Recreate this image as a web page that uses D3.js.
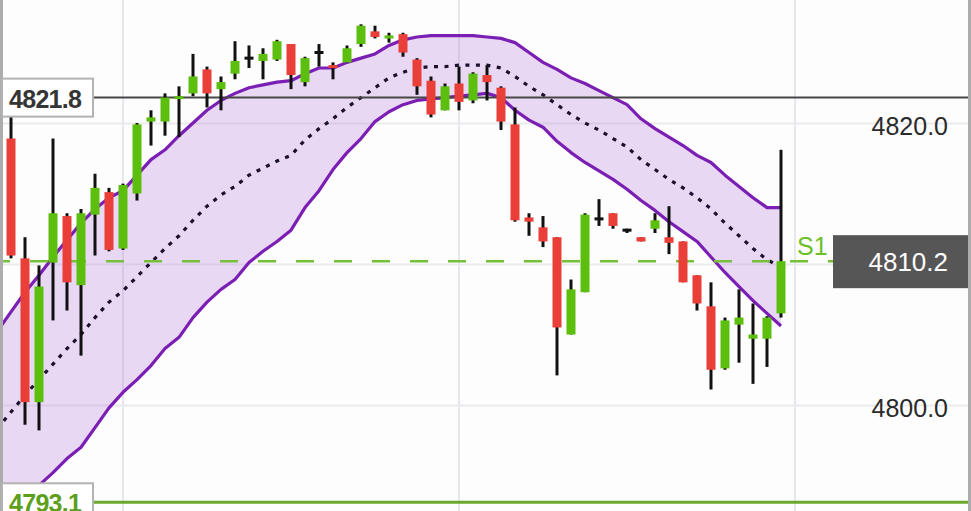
<!DOCTYPE html>
<html><head><meta charset="utf-8">
<script src="https://cdn.jsdelivr.net/npm/d3@7"></script>
<style>html,body{margin:0;padding:0;background:#fdfdfd;overflow:hidden}</style>
</head><body>
<svg id="c" width="971" height="511"></svg>
<script>
// ---- data ----
const opens  = [4818.9,4810.4,4800.2,4810.1,4813.4,4808.5,4813.5,4815.1,4811.1,4815.0,
                4820.1,4820.1,4821.6,4822.1,4823.8,4822.4,4823.5,4824.6,4824.4,4824.5,
                4825.6,4822.9,4825.0,4824.0,4824.3,4825.6,4826.5,4825.9,4826.3,4824.5,
                4823.0,4820.9,4822.8,4821.6,4823.4,4822.5,4819.9,4813.3,4812.6,4811.9,
                4805.0,4808.0,4813.2,4813.6,4812.4,4811.9,4812.5,4811.9,4811.6,4809.2,
                4807.0,4802.6,4805.7,4804.7,4804.7,4806.5];
const highs  = [4821.0,4811.9,4809.9,4818.9,4813.6,4813.9,4816.4,4815.4,4815.7,4820.0,
                4820.9,4822.1,4822.6,4824.9,4824.0,4823.3,4825.8,4825.5,4825.3,4825.9,
                4825.6,4824.7,4825.6,4824.3,4825.5,4827.0,4826.9,4826.4,4826.4,4824.6,
                4823.3,4822.8,4824.0,4823.6,4824.1,4822.6,4821.1,4813.6,4813.4,4811.9,
                4808.9,4813.6,4814.6,4813.6,4812.5,4811.9,4813.6,4814.1,4811.6,4809.2,
                4808.7,4806.2,4808.2,4807.2,4806.3,4818.1];
const lows   = [4810.4,4798.6,4798.2,4806.0,4806.7,4803.5,4810.6,4810.9,4811.0,4814.5,
                4818.4,4819.1,4819.0,4821.9,4821.1,4820.9,4823.1,4823.9,4823.1,4824.4,
                4822.4,4822.6,4824.0,4823.1,4824.3,4825.4,4826.0,4825.7,4824.7,4822.0,
                4820.4,4820.9,4820.9,4821.4,4821.6,4819.5,4813.0,4812.0,4811.2,4802.1,
                4805.0,4808.0,4812.7,4812.5,4812.2,4811.6,4812.2,4810.7,4808.7,4806.7,
                4801.1,4802.5,4803.0,4801.5,4802.7,4806.2];
const closes = [4810.6,4800.2,4808.4,4813.6,4808.7,4813.6,4815.4,4811.0,4815.6,4819.9,
                4820.4,4821.8,4821.8,4823.3,4822.1,4822.9,4824.4,4824.6,4824.9,4825.8,
                4823.4,4824.6,4825.0,4823.8,4825.3,4826.9,4826.1,4826.1,4825.0,4822.6,
                4820.6,4822.6,4821.5,4823.5,4822.9,4820.1,4813.1,4813.0,4811.6,4805.5,
                4808.2,4813.5,4813.2,4812.7,4812.4,4811.6,4813.1,4811.5,4808.7,4807.2,
                4802.5,4806.0,4806.2,4805.0,4806.2,4810.2];
// band values start one bar left of the first visible bar (index -1)
const bandUpper = [4805.2,
                4806.6,4808.0,4809.2,4810.5,4811.7,4812.9,4813.9,4814.7,4815.2,4816.3,
                4817.4,4818.1,4819.1,4820.0,4820.9,4821.6,4822.1,4822.5,4822.7,4822.9,
                4823.0,4823.5,4823.9,4823.9,4824.3,4824.6,4824.9,4825.5,4825.9,4826.1,
                4826.2,4826.2,4826.2,4826.2,4826.1,4826.0,4825.7,4825.0,4824.3,4823.8,
                4823.2,4822.8,4822.3,4821.8,4821.3,4820.3,4819.6,4819.0,4818.4,4817.7,
                4817.2,4816.3,4815.5,4814.7,4814.0,4814.0];
const bandLower = [4791.4,
                4792.4,4793.3,4794.3,4795.2,4796.2,4797.0,4798.4,4799.8,4800.9,4801.8,
                4802.8,4804.0,4804.8,4806.2,4807.3,4808.2,4808.9,4810.1,4810.9,4811.6,
                4812.4,4814.0,4815.2,4816.7,4817.9,4818.9,4820.1,4820.8,4821.3,4821.6,
                4821.7,4821.8,4821.9,4822.0,4822.1,4821.8,4820.9,4820.2,4819.7,4818.7,
                4817.9,4817.2,4816.6,4816.0,4815.3,4814.5,4813.8,4813.0,4812.3,4811.6,
                4810.5,4809.4,4808.4,4807.4,4806.5,4805.6];
const bandMid = [4798.3,
                4799.5,4800.7,4801.8,4802.9,4804.0,4805.0,4806.2,4807.3,4808.1,4809.1,
                4810.1,4811.1,4812.0,4813.1,4814.1,4814.9,4815.5,4816.3,4816.8,4817.3,
                4817.7,4818.8,4819.6,4820.3,4821.1,4821.8,4822.5,4823.2,4823.6,4823.9,
                4824.0,4824.0,4824.1,4824.1,4824.1,4823.9,4823.3,4822.6,4822.0,4821.3,
                4820.6,4820.0,4819.5,4818.9,4818.3,4817.4,4816.7,4816.0,4815.4,4814.7,
                4813.9,4812.9,4812.0,4811.1,4810.3,4809.8];
const gridTicks = [4800, 4810, 4820];
const labelTicks = [4800, 4820];
const gridBars = [8, 32, 56];
const levelHigh = 4821.8;
const levelLow = 4793.1;
const levelS1 = 4810.2;
const s1Label = "S1";
const lastPrice = 4810.2;

// ---- chart ----
const W = 971, H = 511;
const FONT = "'Liberation Sans', Arial, Helvetica, sans-serif";
const svg = d3.select("#c");
const x = d3.scaleLinear().domain([0, 56]).range([11, 795]);
const y = d3.scaleLinear().domain([4800, 4820]).range([405, 123]);
const fmt = d3.format(".1f");

svg.append("rect").attr("width", W).attr("height", H).attr("fill", "#fdfdfd");
svg.append("defs").append("clipPath").attr("id", "plot")
  .append("rect").attr("x", 3).attr("y", 0).attr("width", 965).attr("height", H);

// horizontal grid
const gridAxis = d3.axisRight(y).tickValues(gridTicks).tickFormat("").tickSize(-965);
const gg = svg.append("g").attr("transform", "translate(968,0)").call(gridAxis);
gg.select(".domain").remove();
gg.selectAll(".tick line").attr("stroke", "#ebebee").attr("stroke-width", 2);

// right price labels
const labelAxis = d3.axisRight(y).tickValues(labelTicks).tickFormat(fmt).tickSize(0).tickPadding(0);
const ag = svg.append("g").attr("transform", "translate(968,0)").call(labelAxis);
ag.select(".domain").remove();
ag.selectAll(".tick text").attr("x", -20).attr("dy", "0.44em").attr("text-anchor", "end")
  .attr("font-size", 25).attr("font-family", FONT).attr("fill", "#2a2a2a");

const plot = svg.append("g").attr("clip-path", "url(#plot)");

// vertical grid
plot.selectAll("line.vg").data(gridBars).join("line").attr("class", "vg")
  .attr("x1", d => x(d)).attr("x2", d => x(d)).attr("y1", 0).attr("y2", H)
  .attr("stroke", "#e6e8f1").attr("stroke-width", 2);

// band
const bi = d3.range(bandUpper.length).map(i => i - 1);
const area = d3.area().x(i => x(i)).y0(i => y(bandLower[i + 1])).y1(i => y(bandUpper[i + 1]));
plot.append("path").datum(bi).attr("d", area).attr("fill", "rgba(168,100,214,0.24)");
const lineOf = arr => d3.line().x(i => x(i)).y(i => y(arr[i + 1]));
plot.append("path").datum(bi).attr("d", lineOf(bandUpper)).attr("fill", "none")
  .attr("stroke", "#7b1fb4").attr("stroke-width", 3.2).attr("stroke-linejoin", "round");
plot.append("path").datum(bi).attr("d", lineOf(bandLower)).attr("fill", "none")
  .attr("stroke", "#7b1fb4").attr("stroke-width", 3.2).attr("stroke-linejoin", "round");
plot.append("path").datum(bi).attr("d", lineOf(bandMid)).attr("fill", "none")
  .attr("stroke", "#1c1030").attr("stroke-width", 3.2).attr("stroke-dasharray", "4,6.5");

// level lines
plot.append("line").attr("x1", 93).attr("x2", 968).attr("y1", y(levelHigh)).attr("y2", y(levelHigh))
  .attr("stroke", "#474747").attr("stroke-width", 2);
plot.append("line").attr("x1", 93).attr("x2", 968).attr("y1", y(levelLow)).attr("y2", y(levelLow))
  .attr("stroke", "#6aa72a").attr("stroke-width", 3);
plot.append("line").attr("x1", 3).attr("x2", 833).attr("y1", y(levelS1)).attr("y2", y(levelS1))
  .attr("stroke", "#74c03a").attr("stroke-width", 2.4).attr("stroke-dasharray", "18,20").attr("stroke-dashoffset", 11);

// candles
const idx = d3.range(opens.length);
const bodyW = 9;
const cg = plot.append("g");
cg.selectAll("line.w").data(idx).join("line").attr("class", "w")
  .attr("x1", i => x(i)).attr("x2", i => x(i))
  .attr("y1", i => y(highs[i])).attr("y2", i => y(lows[i]))
  .attr("stroke", "#111").attr("stroke-width", 3);
cg.selectAll("rect.b").data(idx).join("rect").attr("class", "b")
  .attr("x", i => x(i) - bodyW / 2).attr("width", bodyW)
  .attr("y", i => Math.min(y(opens[i]), y(closes[i])) - (Math.abs(y(opens[i]) - y(closes[i])) < 3 ? 1.5 : 0))
  .attr("height", i => Math.max(3, Math.abs(y(opens[i]) - y(closes[i]))))
  .attr("fill", i => closes[i] > opens[i] ? "#5cbf0e" : closes[i] < opens[i] ? "#ea3f38" : "#111");

// left / right frame
svg.append("rect").attr("x", 0).attr("y", 0).attr("width", 3).attr("height", H).attr("fill", "#acacac");
svg.append("rect").attr("x", 968).attr("y", 0).attr("width", 3).attr("height", H).attr("fill", "#acacac");

// level label boxes
function levelBox(v, color) {
  const cy = y(v);
  svg.append("rect").attr("x", 2).attr("y", cy - 19).attr("width", 91).attr("height", 38)
    .attr("fill", "#ffffff").attr("stroke", "#b3b3b3").attr("stroke-width", 2);
  svg.append("text").attr("x", 9).attr("y", cy + 10).text(fmt(v))
    .attr("font-family", FONT).attr("font-weight", "bold").attr("font-size", 25)
    .attr("letter-spacing", -0.7).attr("fill", color);
}
levelBox(levelHigh, "#353535");
levelBox(levelLow, "#5c9f1c");

// S1 label and last price tag
svg.append("text").attr("x", 797).attr("y", y(levelS1) - 6).text(s1Label)
  .attr("font-family", FONT).attr("font-size", 25).attr("fill", "#6cc02a");
svg.append("rect").attr("x", 833).attr("y", y(lastPrice) - 26).attr("width", 135).attr("height", 53)
  .attr("fill", "#565656");
svg.append("text").attr("x", 948).attr("y", y(lastPrice) + 10).attr("text-anchor", "end").text(fmt(lastPrice))
  .attr("font-family", FONT).attr("font-size", 26).attr("fill", "#ffffff");
</script>
</body></html>
